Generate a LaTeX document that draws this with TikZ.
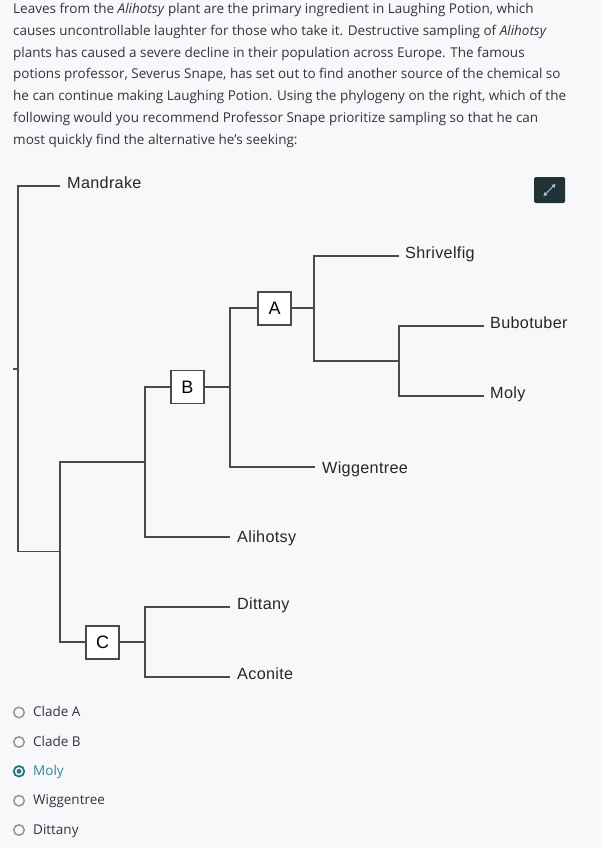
\documentclass[tikz,border=0pt]{standalone}
\usepackage{fontspec}
\setmainfont{Open Sans}
\newfontfamily\treefont[LetterSpace=2]{Liberation Sans}
\usetikzlibrary{arrows.meta}
\definecolor{bg}{HTML}{F8F8FA}
\definecolor{bodytxt}{HTML}{33333D}
\definecolor{treeln}{HTML}{4A4A4A}
\definecolor{teal}{HTML}{1F7A80}
\definecolor{tealtxt}{HTML}{2A8A9A}
\definecolor{iconbg}{HTML}{1F3535}
\definecolor{radiogray}{HTML}{9A9A9A}
\begin{document}
\begin{tikzpicture}[x=1pt,y=-1pt,
  body/.style={anchor=base west,inner sep=0pt,text=bodytxt,font=\fontsize{13.5}{16}\selectfont},
  branch/.style={draw=treeln,line width=1.3pt},
  leaf/.style={anchor=base west,inner sep=0pt,text=black!85,font=\treefont\fontsize{16.2}{18}\selectfont},
  cladebox/.style={draw=treeln,line width=1.2pt,fill=white,minimum width=33pt,minimum height=33pt,inner sep=0pt,font=\treefont\fontsize{18}{20}\selectfont},
  radio/.style={circle,draw=radiogray,line width=1.6pt,minimum size=10.5pt,inner sep=0pt},
  radiosel/.style={circle,draw=teal,line width=1.8pt,minimum size=10.5pt,inner sep=0pt},
  opt/.style={anchor=base west,inner sep=0pt,text=bodytxt,font=\fontsize{13.5}{16}\selectfont}]
\fill[bg] (0,0) rectangle (602,848);
\useasboundingbox (0,0) rectangle (602,848);
% question text
\node[body] (q1) at (13,14) {Leaves from the \textit{Alihotsy} plant are the primary ingredient in Laughing Potion, which};
\node[body] (q2) at (13,35.7) {causes uncontrollable laughter for those who take it. Destructive sampling of \textit{Alihotsy}};
\node[body] (q3) at (13,57.3) {plants has caused a severe decline in their population across Europe. The famous};
\node[body] (q4) at (13,79) {potions professor, Severus Snape, has set out to find another source of the chemical so};
\node[body] (q5) at (13,100.7) {he can continue making Laughing Potion. Using the phylogeny on the right, which of the};
\node[body] (q6) at (13,122.3) {following would you recommend Professor Snape prioritize sampling so that he can};
\node[body] (q7) at (13,144) {most quickly find the alternative he's seeking:};
% expand icon
\node[fill=iconbg,rounded corners=1.5pt,minimum width=31pt,minimum height=26pt,inner sep=0pt] (icon) at (549.5,190) {};
\coordinate (ia) at (543.5,196);
\coordinate (ib) at (555.5,184);
\draw[{Triangle[length=3.5pt,width=4pt]}-{Triangle[length=3.5pt,width=4pt]},draw=gray!60!blue!40!white,fill=gray!60!blue!40!white,line width=1pt] (ia) -- (ib);
% tree coordinates
\coordinate (stub) at (13,369);
\coordinate (rootm) at (18,369);
\coordinate (rtop) at (18,186);
\coordinate (rbot) at (18,551.5);
\coordinate (n1) at (60,551.5);
\coordinate (n1t) at (60,462);
\coordinate (n1b) at (60,642);
\coordinate (n2) at (145,462);
\coordinate (n2t) at (145,387);
\coordinate (n2b) at (145,537);
\coordinate (n3) at (230,387);
\coordinate (n3t) at (230,308);
\coordinate (n3b) at (230,467);
\coordinate (n4) at (314,308);
\coordinate (n4t) at (314,256);
\coordinate (n4b) at (314,361);
\coordinate (n5) at (399,361);
\coordinate (n5t) at (399,326);
\coordinate (n5b) at (399,396);
\coordinate (n6) at (145,642);
\coordinate (n6t) at (145,607);
\coordinate (n6b) at (145,677);
% leaf ends
\coordinate (eMan) at (60,186);
\coordinate (eShr) at (399,256);
\coordinate (eBub) at (484,326);
\coordinate (eMol) at (484,396);
\coordinate (eWig) at (315,467);
\coordinate (eAli) at (230,537);
\coordinate (eDit) at (230,607);
\coordinate (eAco) at (230,677);
% branches
\draw[branch] (stub) -- (rootm);
\draw[branch] (eMan) -- (rtop) -- (rbot) -- (n1);
\draw[branch] (n2) -- (n1t) -- (n1b) -- (n6);
\draw[branch] (n3) -- (n2t) -- (n2b) -- (eAli);
\draw[branch] (n4) -- (n3t) -- (n3b) -- (eWig);
\draw[branch] (eShr) -- (n4t) -- (n4b) -- (n5);
\draw[branch] (eBub) -- (n5t) -- (n5b) -- (eMol);
\draw[branch] (eDit) -- (n6t) -- (n6b) -- (eAco);
% clade boxes
\node[cladebox] (B) at (187.5,387) {B};
\node[cladebox] (A) at (274.5,308.5) {A};
\node[cladebox] (C) at (102.5,642.5) {C};
% leaf labels
\node[leaf] (lMan) at (67,188.3) {Mandrake};
\node[leaf] (lShr) at (405,258.3) {Shrivelfig};
\node[leaf] (lBub) at (490,328.3) {Bubotuber};
\node[leaf] (lMol) at (490,398.6) {Moly};
\node[leaf] (lWig) at (322,473.5) {Wiggentree};
\node[leaf] (lAli) at (237,542.3) {Alihotsy};
\node[leaf] (lDit) at (237,609.3) {Dittany};
\node[leaf] (lAco) at (237,679.3) {Aconite};
% options
\node[radio] (r1) at (19,712.5) {};
\node[opt] (o1) at (33,716.7) {Clade A};
\node[radio] (r2) at (19,742) {};
\node[opt] (o2) at (33,746.2) {Clade B};
\node[radiosel] (r3) at (19,771.3) {};
\fill[teal] (r3.center) circle (2.4pt);
\node[opt,text=tealtxt] (o3) at (33,775.5) {Moly};
\node[radio] (r4) at (19,800.7) {};
\node[opt] (o4) at (33,804.9) {Wiggentree};
\node[radio] (r5) at (19,830) {};
\node[opt] (o5) at (33,834.2) {Dittany};
\end{tikzpicture}
\end{document}
